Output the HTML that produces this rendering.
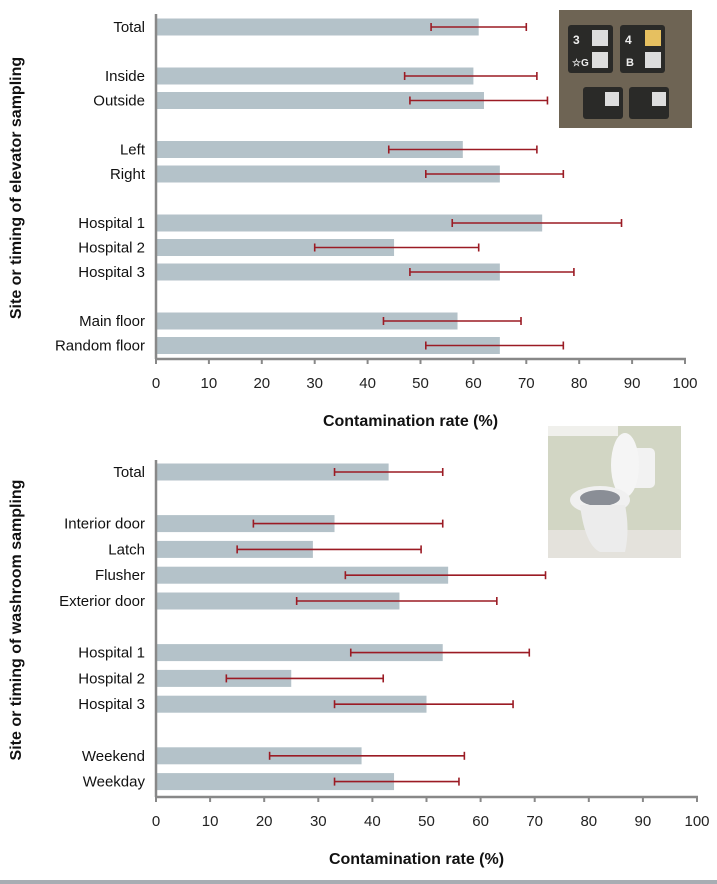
<!DOCTYPE html>
<html><head><meta charset="utf-8">
<style>
body{margin:0;width:717px;height:884px;background:#fff;overflow:hidden;font-family:"Liberation Sans",sans-serif;}
svg{display:block}
</style></head>
<body>
<svg id="chart" width="717" height="884" xmlns="http://www.w3.org/2000/svg">
  <g id="photo1">
    <rect x="559" y="10" width="133" height="118" fill="#6e6454"/>
    <rect x="568" y="25" width="45" height="48" fill="#2a2a28" rx="3"/>
    <rect x="620" y="25" width="45" height="48" fill="#2a2a28" rx="3"/>
    <rect x="592" y="30" width="16" height="16" fill="#ddd"/>
    <rect x="645" y="30" width="16" height="16" fill="#e6c060"/>
    <rect x="592" y="52" width="16" height="16" fill="#ddd"/>
    <rect x="645" y="52" width="16" height="16" fill="#ddd"/>
    <text x="573" y="44" fill="#eee" font-size="12" font-weight="bold">3</text>
    <text x="625" y="44" fill="#eee" font-size="12" font-weight="bold">4</text>
    <text x="572" y="66" fill="#eee" font-size="10" font-weight="bold">☆G</text>
    <text x="626" y="66" fill="#eee" font-size="11" font-weight="bold">B</text>
    <rect x="583" y="87" width="40" height="32" fill="#2a2a28" rx="3"/>
    <rect x="629" y="87" width="40" height="32" fill="#2a2a28" rx="3"/>
    <rect x="605" y="92" width="14" height="14" fill="#ddd"/>
    <rect x="652" y="92" width="14" height="14" fill="#ddd"/>
  </g>
  <g id="photo2">
    <rect x="548" y="426" width="133" height="132" fill="#d2d6c4"/>
    <rect x="548" y="530" width="133" height="28" fill="#e4e2dc"/>
    <rect x="548" y="426" width="70" height="10" fill="#f0f0ec"/>
    <rect x="627" y="448" width="28" height="40" fill="#f2f2f2" rx="5"/>
    <ellipse cx="625" cy="465" rx="14" ry="32" fill="#f5f5f5"/>
    <ellipse cx="600" cy="500" rx="30" ry="14" fill="#f0f0f0"/>
    <ellipse cx="600" cy="498" rx="20" ry="8" fill="#8a8e96"/>
    <path d="M580 505 Q585 545 600 552 L625 552 Q630 530 625 505 Z" fill="#ececec"/>
  </g>
</svg>
<script>
var NS="http://www.w3.org/2000/svg";
var svg=document.getElementById('chart');
// Elevator chart data
var elevCats=["Total","Inside","Outside","Left","Right","Hospital 1","Hospital 2","Hospital 3","Main floor","Random floor"];
var elevSlots=[0,2,3,5,6,8,9,10,12,13];
var elevVals=[61,60,62,58,65,73,45,65,57,65];
var elevLow=[52,47,48,44,51,56,30,48,43,51];
var elevHigh=[70,72,74,72,77,88,61,79,69,77];
// Washroom chart data
var washCats=["Total","Interior door","Latch","Flusher","Exterior door","Hospital 1","Hospital 2","Hospital 3","Weekend","Weekday"];
var washSlots=[0,2,3,4,5,7,8,9,11,12];
var washVals=[43,33,29,54,45,53,25,50,38,44];
var washLow=[33,18,15,35,26,36,13,33,21,33];
var washHigh=[53,53,49,72,63,69,42,66,57,56];
var ticks=[0,10,20,30,40,50,60,70,80,90,100];

function mk(tag,attrs,parent){var e=document.createElementNS(NS,tag);for(var k in attrs)e.setAttribute(k,attrs[k]);(parent||svg).appendChild(e);return e;}

function drawChart(cfg){
  var g=mk('g',{});
  
  
  function xs(v){return cfg.x0+(cfg.x100-cfg.x0)*v/100;}
  function ys(slot){return cfg.yFirst+slot*cfg.step;}
  // bars
  for(var i=0;i<cfg.cats.length;i++){
    var yc=ys(cfg.slots[i]);
    var b=mk('rect',{x:cfg.x0+1,y:yc-8.5,width:xs(cfg.vals[i])-cfg.x0-1,height:17,fill:'#b4c2c9'},g);
    
    
    var e=mk('g',{stroke:'#9b1b24','stroke-width':1.6},g);
    
    
    mk('line',{x1:xs(cfg.low[i]),x2:xs(cfg.high[i]),y1:yc,y2:yc},e);
    mk('line',{x1:xs(cfg.low[i]),x2:xs(cfg.low[i]),y1:yc-4,y2:yc+4},e);
    mk('line',{x1:xs(cfg.high[i]),x2:xs(cfg.high[i]),y1:yc-4,y2:yc+4},e);
    var t=mk('text',{x:cfg.x0-11,y:yc+5,'text-anchor':'end','font-size':15,fill:'#111'},g);
    t.textContent=cfg.cats[i];
    
    
  }
  // axes
  var ya=mk('line',{x1:cfg.x0,x2:cfg.x0,y1:cfg.yTop,y2:cfg.yAxis,stroke:'#888','stroke-width':2.5},g);
  
  
  var xa=mk('line',{x1:cfg.x0-1,x2:cfg.x100+1,y1:cfg.yAxis,y2:cfg.yAxis,stroke:'#888','stroke-width':2.5},g);
  
  
  for(var j=0;j<ticks.length;j++){
    var tx=xs(ticks[j]);
    mk('line',{x1:tx,x2:tx,y1:cfg.yAxis,y2:cfg.yAxis+5,stroke:'#888','stroke-width':2},g);
    var tl=mk('text',{x:tx,y:cfg.yAxis+29,'text-anchor':'middle','font-size':15,fill:'#222'},g);
    tl.textContent=ticks[j];
    
    
  }
  var xt=mk('text',{x:(cfg.x0+cfg.x100)/2-10,y:cfg.titleY,'text-anchor':'middle','font-size':16,'font-weight':'bold',fill:'#111'},g);
  xt.textContent='Contamination rate (%)';
  
  
  var yt=mk('text',{x:0,y:0,'text-anchor':'middle','font-size':16,'font-weight':'bold',fill:'#111',transform:'translate(21,'+cfg.yTitleC+') rotate(-90)'},g);
  yt.textContent=cfg.ytitle;
  
  
}
drawChart({name:'elevator-chart',cats:elevCats,slots:elevSlots,vals:elevVals,low:elevLow,high:elevHigh,
  x0:156,x100:685,yFirst:27,step:24.5,yTop:14,yAxis:359,titleY:426,yTitleC:188,ytitle:'Site or timing of elevator sampling'});
drawChart({name:'washroom-chart',cats:washCats,slots:washSlots,vals:washVals,low:washLow,high:washHigh,
  x0:156,x100:697,yFirst:472,step:25.8,yTop:460,yAxis:797,titleY:864,yTitleC:620,ytitle:'Site or timing of washroom sampling'});
var bl=mk('rect',{x:0,y:880,width:717,height:4,fill:'#a8adb3'});


svg.appendChild(document.getElementById('photo1'));
svg.appendChild(document.getElementById('photo2'));
</script>
</body></html>
